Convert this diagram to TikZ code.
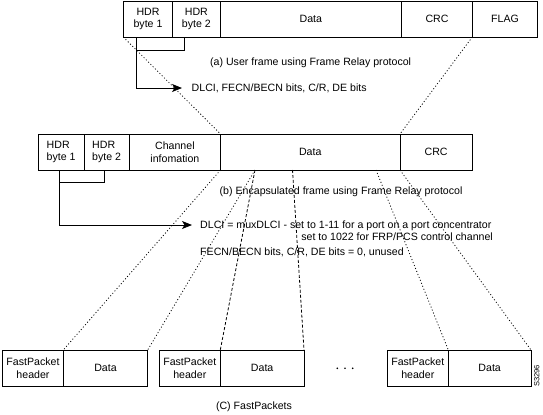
\documentclass[tikz,border=0pt]{standalone}
\usepackage{fontspec}
\setmainfont{Liberation Sans}
\usetikzlibrary{arrows.meta}
\begin{document}
\begin{tikzpicture}[x=1bp,y=-1bp,
  font=\fontsize{10.6bp}{12.5bp}\selectfont,
  field/.style={draw, line width=0.9bp, minimum height=36bp, inner sep=0pt, outer sep=0pt, anchor=north west, align=center},
  pkt/.style={field, minimum height=36.7bp},
  lbl/.style={inner sep=0pt, anchor=west, text height=7.6bp, text depth=0pt},
  ln/.style={line width=0.9bp},
  dotl/.style={line width=0.8bp, dash pattern=on 1bp off 2.2bp},
  dashl/.style={line width=0.8bp, dash pattern=on 3bp off 2bp},
  arr/.style={ln, -{Stealth[length=10bp,width=8bp,inset=2.5bp]}}
]
\useasboundingbox (0,0) rectangle (543,414);

% (a) user frame
\node[field, minimum width=49.4bp] (tH1) at (123.3,1) {HDR\\byte 1};
\node[field, minimum width=47.3bp] (tH2) at (172.7,1) {HDR\\byte 2};
\node[field, minimum width=181.7bp] (tD) at (220,1) {Data};
\node[field, minimum width=70.6bp] (tC) at (401.7,1) {CRC};
\node[field, minimum width=65.4bp] (tF) at (472.3,1) {FLAG};

\coordinate (tbA) at (136.7,37);
\coordinate (tbB) at (184.3,37);
\coordinate (tbC) at (136.7,50);
\draw[ln] (tbA) -- (tbC) -| (tbB);
\node[lbl] (tDL) at (191.5,88) {DLCI, FECN/BECN bits, C/R, DE bits};
\draw[arr] (tbC) |- ([xshift=-9.5bp]tDL.west);
\node[lbl] (tcap) at (210,61.7) {(a) User frame using Frame Relay protocol};

% (b) encapsulated frame
\node[field, align=left, minimum width=45.7bp] (mH1) at (38.3,134) {HDR\\byte 1};
\node[field, align=left, minimum width=45.3bp] (mH2) at (84,134) {HDR\\byte 2};
\node[field, minimum width=91.2bp] (mCh) at (129.3,134) {Channel\\infomation};
\node[field, minimum width=179.5bp] (mD) at (220.5,134) {Data};
\node[field, minimum width=72.3bp] (mC) at (400,134) {CRC};

\draw[dotl] (tH1.south west) -- (mD.north west);
\draw[dotl] (tF.south west) -- (mC.north west);

\coordinate (mbA) at (59,170);
\coordinate (mbB) at (104.3,170);
\coordinate (mbC) at (59,182.7);
\draw[ln] (mbA) -- (mbC) -| (mbB);
\node[lbl] (mcap) at (219.5,191) {(b) Encapsulated frame using Frame Relay protocol};
\node[lbl] (mDL) at (200,225) {DLCI = muxDLCI - set to 1-11 for a port on a port concentrator};
\node[lbl, anchor=east] (mDL2) at (493,237) {set to 1022 for FRP/PCS control channel};
\node[lbl] (mFE) at (200,252) {FECN/BECN bits, C/R, DE bits = 0, unused};
\draw[arr] (mbC) |- ([xshift=-8bp]mDL.west);

% (c) FastPackets
\node[pkt, minimum width=60.6bp] (p1h) at (2.7,350) {FastPacket\\header};
\node[pkt, minimum width=84.4bp] (p1d) at (63.3,350) {Data};
\node[pkt, minimum width=61bp] (p2h) at (159.3,350) {FastPacket\\header};
\node[pkt, minimum width=83.7bp] (p2d) at (220.3,350) {Data};
\node[pkt, minimum width=61bp] (p3h) at (387.3,350) {FastPacket\\header};
\node[pkt, minimum width=82.7bp] (p3d) at (448.3,350) {Data};

\coordinate (mx1) at (255,170);
\coordinate (mx2) at (292.5,170);
\coordinate (mx3) at (376,170);
\draw[dotl] (mD.south west) -- (p1d.north west);
\draw[dotl] (mx1) -- (p1d.north east);
\draw[dashl] (mx1) -- (p2d.north west);
\draw[dashl] (mx2) -- (p2d.north east);
\draw[dotl] (mx3) -- (p3d.north west);
\draw[dotl] (mC.south west) -- (p3d.north east);

\fill (337.3,368.3) circle (0.9bp) (345,368.3) circle (0.9bp) (352.7,368.3) circle (0.9bp);

\node (ccap) at (254,406.7) {(C) FastPackets};
\node[rotate=90, inner sep=0pt, font=\fontsize{7.5bp}{9bp}\selectfont] (code) at (536.7,376) {S3296};
\end{tikzpicture}
\end{document}
